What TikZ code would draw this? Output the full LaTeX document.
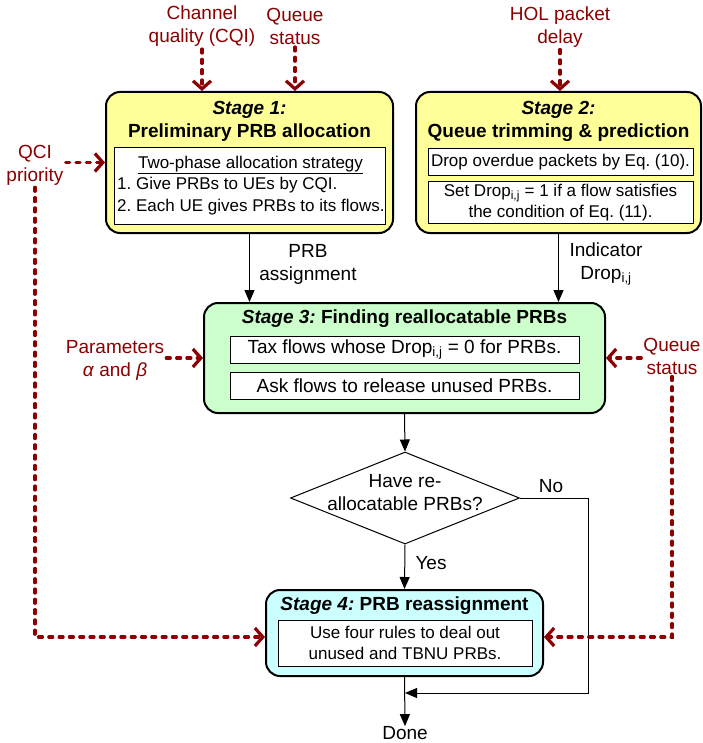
\documentclass[tikz,border=0pt]{standalone}
\usepackage{fontspec}
\setmainfont{Liberation Sans}
\usetikzlibrary{arrows.meta,shapes.geometric,calc}
\definecolor{dred}{HTML}{8B0000}
\definecolor{ylw}{HTML}{FFFF99}
\definecolor{grn}{HTML}{CCFFCC}
\definecolor{cyn}{HTML}{CCFFFF}
\frenchspacing
\begin{document}
\begin{tikzpicture}[x=1pt,y=-1pt,
 stagebox/.style={draw=black,line width=2pt,rounded corners=14pt,inner sep=0pt},
 innerbox/.style={draw=black,line width=1pt,fill=white,inner sep=0pt},
 big/.style={font=\fontsize{19}{23}\selectfont},
 small/.style={font=\fontsize{17}{20.5}\selectfont},
 ttl/.style={font=\fontsize{19}{23}\selectfont\bfseries, inner sep=0pt},
 lbl/.style={text=dred, font=\fontsize{19}{23}\selectfont, align=center, inner sep=2pt},
 flow/.style={draw=black, line width=1pt, -{Triangle[length=12pt,width=10pt]}},
 info/.style={draw=dred, line width=3.2pt, line cap=round, dash pattern=on 4pt off 6.3pt, -{Straight Barb[length=8pt,width=18pt,line width=3.2pt]}},
]
\fill[white] (0,0) rectangle (702,743);
\useasboundingbox (0,0) rectangle (702,743);

% Stage 1
\node[stagebox, fill=ylw, minimum width=287pt, minimum height=141pt] (s1) at (249.5,162.5) {};
\node[ttl] (s1t1) at (249.5,110) {\itshape Stage 1:};
\node[ttl] (s1t2) at (249.5,133) {Preliminary PRB allocation};
\node[innerbox, minimum width=271pt, minimum height=76pt] (s1in) at (249.5,186) {};
\node[small, inner sep=0pt] (s1h) at (250.5,165) {\underline{Two-phase allocation strategy}};
\node[small, inner sep=0pt, anchor=west] (s1a) at (117,185) {1. Give PRBs to UEs by CQI.};
\node[small, inner sep=0pt, anchor=west] (s1b) at (117,207) {2. Each UE gives PRBs to its flows.};

% Stage 2
\node[stagebox, fill=ylw, minimum width=285pt, minimum height=141pt] (s2) at (558.5,162.5) {};
\node[ttl] (s2t1) at (558.5,110) {\itshape Stage 2:};
\node[ttl] (s2t2) at (558.5,133) {Queue trimming \& prediction};
\node[innerbox, small, minimum width=265pt, minimum height=27pt] (s2a) at (560.5,162.5) {Drop overdue packets by Eq. (10).};
\node[innerbox, small, align=center, minimum width=265pt, minimum height=41pt] (s2b) at (560.5,202.5) {Set Drop\textsubscript{i,j} = 1 if a flow satisfies\\the condition of Eq. (11).};

% Stage 3
\node[stagebox, fill=grn, minimum width=401pt, minimum height=110pt] (s3) at (404.5,358) {};
\node[ttl] (s3t) at (404.5,319) {\itshape Stage 3:\upshape{} Finding reallocatable PRBs};
\node[innerbox, big, minimum width=349pt, minimum height=27pt] (s3a) at (404.5,349.5) {Tax flows whose Drop\textsubscript{i,j} = 0 for PRBs.};
\node[innerbox, big, minimum width=349pt, minimum height=27pt] (s3b) at (404.5,385.5) {Ask flows to release unused PRBs.};

% Decision
\node[draw, line width=1pt, diamond, fill=white, minimum width=229pt, minimum height=92pt, inner sep=0pt] (dia) at (405,498) {};
\node[big, align=center, inner sep=0pt] (diat) at (405,493) {Have re-\\allocatable PRBs?};

% Stage 4
\node[stagebox, fill=cyn, minimum width=277pt, minimum height=86pt] (s4) at (404.5,633) {};
\node[ttl] (s4t) at (404.5,606) {\itshape Stage 4:\upshape{} PRB reassignment};
\node[innerbox, small, align=center, minimum width=254pt, minimum height=46pt] (s4in) at (405,643) {Use four rules to deal out\\unused and TBNU PRBs.};

\node[big, inner sep=0pt] (done) at (405,733) {Done};

% labels
\node[lbl] (cqi) at (202,26.5) {Channel\\quality (CQI)};
\node[lbl] (qs1) at (295,26.5) {Queue\\status};
\node[lbl] (hol) at (560,27) {HOL packet\\delay};
\node[lbl] (qci) at (35,165) {QCI\\priority};
\node[lbl] (par) at (115,360) {Parameters\\\textit{α} and \textit{β}};
\node[lbl] (qs2) at (672,356) {Queue\\status};
\node[big, align=center, inner sep=0pt] (prb) at (308,264.5) {PRB\\assignment};
\node[big, align=center, inner sep=0pt] (ind) at (606,264) {Indicator\\Drop\textsubscript{i,j}};
\node[big, inner sep=0pt] (yes) at (431,563) {Yes};
\node[big, inner sep=0pt] (no) at (551,486) {No};

% flow
\draw[flow] (s1.south) -- (s1.south |- s3.north);
\draw[flow] (s2.south) -- (s2.south |- s3.north);
\draw[flow] (s3.south) -- (dia.north);
\draw[flow] (dia.south) -- (s4.north);
\draw[flow] (s4.south) -- (done.north);
\coordinate (nocorner) at (588,693);
\coordinate (merge) at (405,693);
\draw[flow] (dia.east) -| (nocorner) -- (merge);

% info
\draw[info] (cqi.south) -- (cqi.south |- s1.north);
\draw[info] (qs1.south) -- (qs1.south |- s1.north);
\draw[info] (hol.south) -- (hol.south |- s2.north);
\draw[info] (qci.east |- s1.west) -- (s1.west);
\draw[info] (qci.south) |- ($(s4.west)+(0,4)$);
\draw[info] (par.east |- s3.west) -- (s3.west);
\draw[info] (qs2.west |- s3.east) -- (s3.east);
\draw[info] (qs2.south) |- ($(s4.east)+(0,4)$);
\end{tikzpicture}
\end{document}
